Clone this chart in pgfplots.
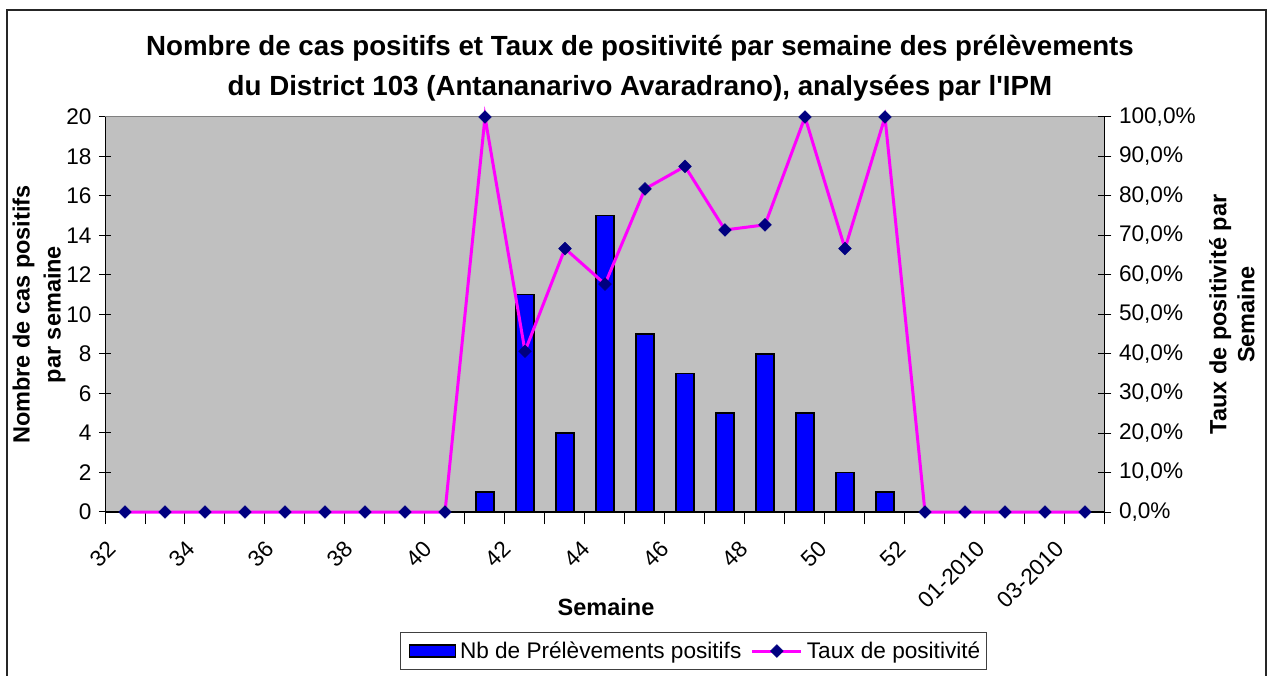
\documentclass[border=0pt]{standalone}
\usepackage{pgfplots}
\pgfplotsset{compat=1.18}
\usepackage{pgfplotstable}
\usepackage{fontspec}
\setmainfont{Liberation Sans}
\definecolor{bggray}{HTML}{C0C0C0}
\definecolor{barblue}{HTML}{0000FF}
\definecolor{linemag}{HTML}{FF00FF}
\definecolor{mknavy}{HTML}{000080}
\definecolor{bordergray}{HTML}{808080}
\pgfplotsset{/pgf/number format/assume math mode=true}
\pgfplotsset{lineleg/.style={legend image code/.code={\draw[##1] (0pt,0pt) -- (49pt,0pt); \draw[##1, only marks] plot coordinates {(24.5pt,0pt)};}}}

\pgfplotstableread{
idx cases
9 1
10 11
11 4
12 15
13 9
14 7
15 5
16 8
17 5
18 2
19 1
}\casestable

\pgfplotstableread{
idx rate
0 0
1 0
2 0
3 0
4 0
5 0
6 0
7 0
8 0
9 100
10 40.7
11 66.7
12 57.7
13 81.8
14 87.5
15 71.4
16 72.7
17 100
18 66.7
19 100
20 0
21 0
22 0
23 0
24 0
}\ratetable

\begin{document}
\begin{tikzpicture}
\useasboundingbox (0pt,0pt) rectangle (1269pt,675pt);
\draw[line width=1.4pt, black!85] (7pt,-20pt) -- (7pt,665pt) -- (1266pt,665pt) -- (1266pt,-20pt);

\begin{axis}[
  at={(105pt,163pt)}, anchor=south west,
  scale only axis, width=1000pt, height=395pt,
  xmin=-0.5, xmax=24.5, ymin=0, ymax=20,
  axis background/.style={fill=bggray},
  axis x line*=bottom, axis y line*=left,
  axis line style={black, line width=1pt, -},
  xtick={-0.5,0.5,...,24.5}, xticklabel=\empty,
  ytick={0,2,...,20},
  tick align=center, major tick length=12pt,
  tick style={black, line width=1pt},
  yticklabel style={font=\fontsize{22.6}{26}\selectfont, xshift=-4pt},
  ylabel={Nombre de cas positifs\\par semaine},
  ylabel style={align=center, font=\bfseries\fontsize{23.5}{31}\selectfont,
    at={(axis description cs:-0.066,0.5)}, anchor=center},
  ybar, bar width=18pt,
  after end axis/.code={\draw[bordergray, line width=1pt] (rel axis cs:0,1) -- (rel axis cs:1,1);},
]
\addplot[ybar, fill=barblue, draw=black, line width=1.5pt] table[x=idx, y=cases] {\casestable};
\end{axis}

\begin{axis}[
  at={(105pt,163pt)}, anchor=south west,
  scale only axis, width=1000pt, height=395pt,
  xmin=-0.5, xmax=24.5, ymin=0, ymax=100,
  axis x line*=bottom, axis y line*=right,
  axis line style={black, line width=1pt, -},
  clip=false,
  xtick={-0.5,1.476,3.452,5.428,7.404,9.38,11.356,13.332,15.308,17.284,19.26,21.236,23.212},
  xticklabels={32,34,36,38,40,42,44,46,48,50,52,01-2010,03-2010},
  xtick style={draw=none},
  xticklabel style={font=\fontsize{22.6}{26}\selectfont, xshift=1pt, yshift=-21pt, rotate=45, anchor=north east, inner sep=0pt},
  ytick={0,10,...,100},
  yticklabel={\pgfmathprintnumber[fixed,fixed zerofill,precision=1,use comma]{\tick}\%},
  yticklabel style={font=\fontsize{22.6}{26}\selectfont, xshift=4pt},
  tick align=center, major tick length=13pt,
  ytick style={black, line width=1pt},
  ylabel={Taux de positivité par\\Semaine},
  ylabel style={align=center, font=\bfseries\fontsize{23.5}{28}\selectfont,
    at={(axis description cs:1.127,0.5)}, anchor=center},
  xlabel={Semaine},
  xlabel style={font=\bfseries\fontsize{23.5}{28}\selectfont,
    at={(axis description cs:0.501,-0.2405)}, anchor=center},
  legend columns=2,
  legend style={at={(axis description cs:0.5885,-0.3038)}, anchor=north,
    draw=black!75, line width=1pt, font=\fontsize{22.6}{26}\selectfont,
    inner xsep=4pt, inner ysep=7.5pt,
    /tikz/every even column/.append style={column sep=7.5pt},
    /tikz/every odd column/.append style={column sep=2pt}},
]
\addlegendimage{legend image code/.code={\path (-4pt,0pt); \draw[fill=barblue, draw=black, line width=1.5pt] (0pt,-6pt) rectangle (46pt,6pt);}}
\addlegendentry{Nb de Prélèvements positifs}
\addplot[linemag, line width=3pt, mark=square*, mark size=4.5pt,
  mark options={rotate=45, fill=mknavy, draw=mknavy, line width=0.5pt},
  lineleg]
  table[x=idx, y=rate] {\ratetable};
\addlegendentry{Taux de positivité}
\end{axis}

\node[font=\bfseries\fontsize{27.7}{40}\selectfont, align=center] at (640pt,607pt)
  {Nombre de cas positifs et Taux de positivité par semaine des prélèvements\\du District 103 (Antananarivo Avaradrano), analysées par l\textquotesingle IPM};
\end{tikzpicture}
\end{document}
